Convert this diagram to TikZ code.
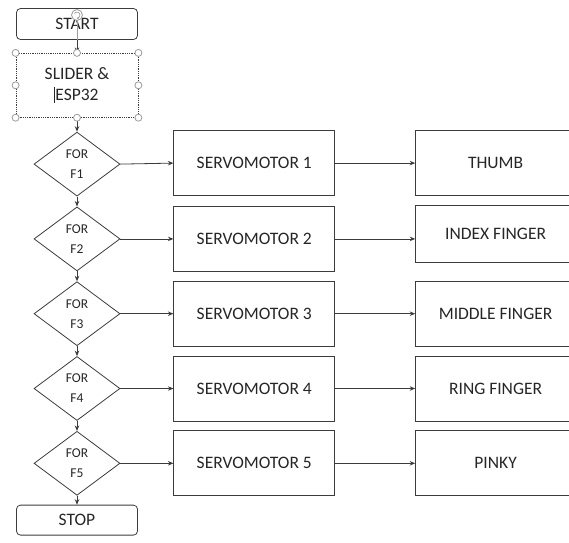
\documentclass[tikz,border=0pt]{standalone}
\usepackage{fontspec}
\setmainfont{Carlito}
\usepackage{tikz}
\definecolor{edgegray}{HTML}{3C3C3C}
\definecolor{textgray}{HTML}{262626}
\definecolor{handlegray}{HTML}{9C9C9C}
\usetikzlibrary{shapes.geometric, arrows.meta, positioning}
\newcommand{\boxfont}{\fontsize{17.5}{21}\selectfont}
\newcommand{\forfont}{\fontsize{13.5}{20}\selectfont}
\tikzstyle{termblock} = [rectangle, draw=edgegray, rounded corners=4pt, 
minimum width=121pt, minimum height=31pt, inner sep=0pt, text=textgray, font=\boxfont]
\tikzstyle{sliderblock} = [rectangle, draw=edgegray, densely dotted, 
minimum width=122pt, minimum height=64pt, align=center, text=textgray, font=\boxfont]
\tikzstyle{forblock} = [diamond, draw=edgegray, minimum width=86pt, 
minimum height=64pt, inner sep=0pt, align=center, text=textgray, font=\forfont]
\tikzstyle{servoblock} = [rectangle, draw=edgegray, minimum width=161pt, 
minimum height=65pt, text=textgray, font=\boxfont]
\tikzstyle{fingerblock} = [rectangle, draw=edgegray, minimum width=160pt, 
minimum height=65pt, text=textgray, font=\boxfont]
\tikzstyle{handle} = [circle, draw=handlegray, fill=white, inner sep=0pt, minimum size=7pt]
\tikzstyle{arrow} = [edgegray, -{Stealth[length=5.5pt, width=4.5pt]}]

\begin{document}
\begin{tikzpicture}[x=1pt, y=-1pt, line width=0.8pt]
	\useasboundingbox (0,0) rectangle (569,542);
	\clip (0,0) rectangle (569,542);

	\node (Start) [termblock] at (77,24) {START};
	\node (Slider) [sliderblock, below=13pt of Start] {SLIDER \&\\\llap{\rule[-2pt]{0.6pt}{16pt}\hspace{1.2pt}}ESP32};
	\node (F1) [forblock, below=14pt of Slider] {FOR\\F1};
	\node (F2) [forblock, below=10pt of F1] {FOR\\F2};
	\node (F3) [forblock, below=10pt of F2] {FOR\\F3};
	\node (F4) [forblock, below=10pt of F3] {FOR\\F4};
	\node (F5) [forblock, below=10pt of F4] {FOR\\F5};
	\node (Stop) [termblock, minimum height=30pt, below=9pt of F5] {STOP};

	\node (Servo1) [servoblock, right=53pt of F1, yshift=1pt] {SERVOMOTOR 1};
	\node (Servo2) [servoblock, right=53pt of F2] {SERVOMOTOR 2};
	\node (Servo3) [servoblock, right=53pt of F3] {SERVOMOTOR 3};
	\node (Servo4) [servoblock, right=53pt of F4] {SERVOMOTOR 4};
	\node (Servo5) [servoblock, right=53pt of F5] {SERVOMOTOR 5};

	\node (Thumb) [fingerblock, right=80pt of Servo1] {THUMB};
	\node (Index) [fingerblock, minimum height=57pt, right=80pt of Servo2, yshift=5pt] {INDEX FINGER};
	\node (Middle) [fingerblock, right=80pt of Servo3] {MIDDLE FINGER};
	\node (Ring) [fingerblock, right=80pt of Servo4] {RING FINGER};
	\node (Pinky) [fingerblock, right=80pt of Servo5] {PINKY};

	\draw [arrow] (Start) -- (Slider);
	\draw [arrow] (Slider) -- (F1);
	\draw [arrow] (F1) -- (F2);
	\draw [arrow] (F2) -- (F3);
	\draw [arrow] (F3) -- (F4);
	\draw [arrow] (F4) -- (F5);
	\draw [arrow] (F5) -- (Stop);

	\draw [arrow] (F1.east) -- (Servo1.west);
	\draw [arrow] (F2) -- (Servo2);
	\draw [arrow] (F3) -- (Servo3);
	\draw [arrow] (F4) -- (Servo4);
	\draw [arrow] (F5) -- (Servo5);

	\draw [arrow] (Servo1) -- (Thumb);
	\draw [arrow] (Servo2.east) -- (Servo2.east -| Index.west);
	\draw [arrow] (Servo3) -- (Middle);
	\draw [arrow] (Servo4) -- (Ring);
	\draw [arrow] (Servo5) -- (Pinky);

	% selection handles round the slider box
	\coordinate (Rot) at (77,15);
	\draw [handlegray] (Rot) -- (Start.south);
	\foreach \a/\n in {north west/nw, north/n, north east/ne, west/w, east/e, south west/sw, south/s, south east/se}
		\node (H\n) [handle] at (Slider.\a) {};
	\node (RotHandle) [handle, minimum size=11pt] at (Rot) {};
	\draw [handlegray, line width=0.7pt, -{Stealth[length=2.5pt, width=2.5pt]}] ([shift={(150:3pt)}]RotHandle.center) arc (150:-100:3pt);
\end{tikzpicture}
\end{document}
